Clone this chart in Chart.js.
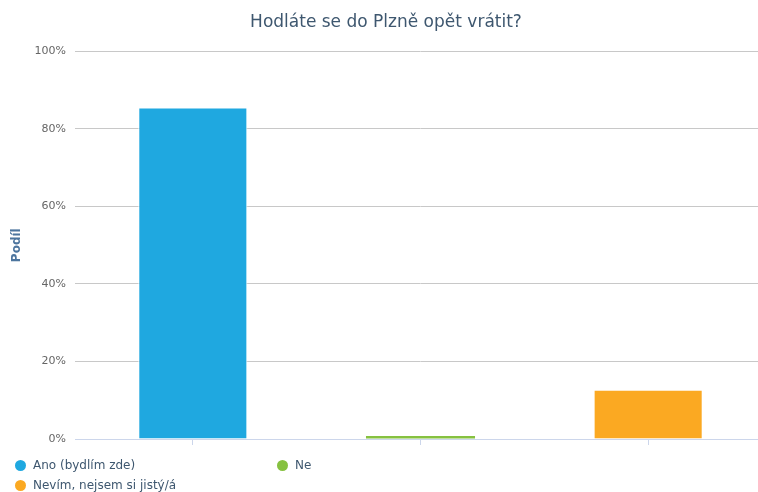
<!DOCTYPE html>
<html>
<head>
<meta charset="utf-8">
<script src="https://cdn.jsdelivr.net/npm/chart.js@4"></script>
<style>
  html, body { margin: 0; padding: 0; background: #fff; }
  #wrap { position: relative; width: 758px; height: 492px; overflow: hidden; }
  #c { position: absolute; left: 0; top: 0; }
  #legend { position: absolute; left: 15px; top: 458px; width: 700px; font-family: "DejaVu Sans", sans-serif; font-size: 12px; color: #3E576F; }
  .item { position: absolute; display: flex; align-items: center; white-space: nowrap; }
  .dot { width: 11px; height: 11px; border-radius: 50%; margin-right: 7px; }
</style>
</head>
<body>
<div id="wrap">
  <canvas id="c" width="762" height="492"></canvas>
  <div id="legend"></div>
</div>
<script>
const categories = ["Ano (bydlím zde)", "Ne", "Nevím, nejsem si jistý/á"];
const shares = [85.5, 0.8, 12.7];
const colors = ["#1fa8e0", "#86c140", "#fba922"];
const yTicks = [0, 20, 40, 60, 80, 100];
const chartTitle = "Hodláte se do Plzně opět vrátit?";
const yTitle = "Podíl";

Chart.defaults.font.family = '"DejaVu Sans", sans-serif';

new Chart(document.getElementById('c'), {
  type: 'bar',
  data: {
    labels: categories,
    datasets: [{
      data: shares,
      backgroundColor: colors,
      borderColor: '#ffffff',
      borderWidth: (ctx) => (ctx.raw < 2 ? 0 : 1),
      categoryPercentage: 1,
      barPercentage: 0.479
    }]
  },
  options: {
    responsive: false,
    animation: false,
    layout: { padding: { left: 10, right: 0, top: 0, bottom: 47 } },
    plugins: {
      legend: { display: false },
      tooltip: { enabled: false },
      title: {
        display: true,
        text: chartTitle,
        color: '#3E576F',
        font: { size: 17, weight: 'normal' },
        padding: { top: 12, bottom: 19 }
      }
    },
    scales: {
      x: {
        grid: {
          display: true,
          drawOnChartArea: false,
          drawTicks: true,
          tickLength: 6,
          offset: false,
          color: '#ccd6eb'
        },
        border: { display: true, color: '#ccd6eb' },
        ticks: { display: false }
      },
      y: {
        min: 0,
        max: 100,
        afterBuildTicks: (s) => { s.ticks = yTicks.map(v => ({ value: v })); },
        afterFit: (s) => { s.width = 69; },
        grid: {
          color: (ctx) => (ctx.tick && ctx.tick.value === 0) ? '#ccd6eb' : '#c8c8c8',
          tickLength: 4,
          drawTicks: true
        },
        border: { display: false },
        ticks: {
          padding: 9,
          color: '#666666',
          font: { size: 11 },
          callback: (v) => v + '%'
        },
        title: {
          display: true,
          text: yTitle,
          color: '#4d759e',
          font: { size: 12, weight: 'bold' },
          padding: { top: 0, bottom: 0 }
        }
      }
    }
  }
});

const legend = document.getElementById('legend');
const pos = [[0, 0], [262, 0], [0, 20]];
categories.forEach((name, i) => {
  const it = document.createElement('div');
  it.className = 'item';
  it.style.left = pos[i][0] + 'px';
  it.style.top = pos[i][1] + 'px';
  const d = document.createElement('span');
  d.className = 'dot';
  d.style.background = colors[i];
  const t = document.createElement('span');
  t.textContent = name;
  it.appendChild(d);
  it.appendChild(t);
  legend.appendChild(it);
});
</script>
</body>
</html>
